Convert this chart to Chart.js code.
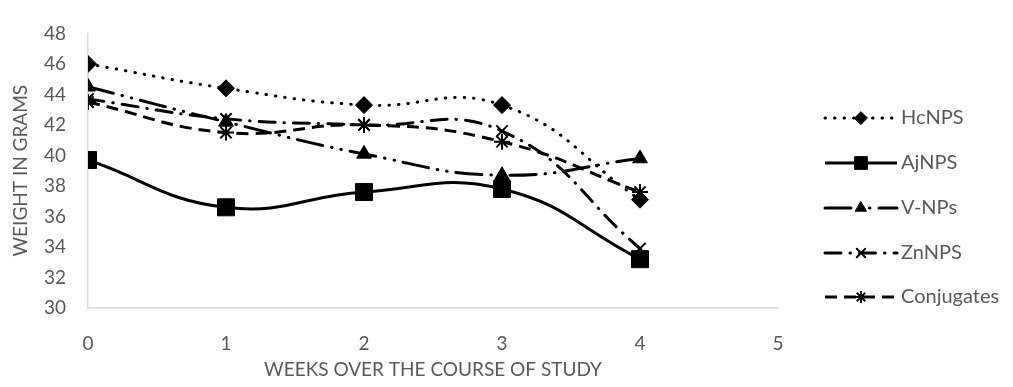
<!DOCTYPE html>
<html>
<head>
<meta charset="utf-8">
<script src="https://cdn.jsdelivr.net/npm/chart.js@4/dist/chart.umd.min.js"></script>
<style>
  html, body { margin: 0; padding: 0; background: #fff; }
  #wrap { width: 1013px; height: 387px; }
</style>
</head>
<body>
<div id="wrap"><canvas id="weightChart" width="1013" height="387"></canvas></div>
<script>
// weeks on x axis
const weeks = [0, 1, 2, 3, 4];

// weight in grams per series
const hcNPS = [46.0, 44.4, 43.3, 43.3, 37.1];
const ajNPS = [39.7, 36.6, 37.6, 37.8, 33.2];
const vNPs = [44.5, 42.2, 40.1, 38.7, 39.8];
const znNPS = [43.7, 42.4, 42.0, 41.6, 33.9];
const conjugates = [43.5, 41.5, 42.0, 40.9, 37.6];

const seriesNames = ["HcNPS", "AjNPS", "V-NPs", "ZnNPS", "Conjugates"];

const textColor = "#595959";
const axisColor = "#d9d9d9";
const fontFamily = "Lato, 'Open Sans', sans-serif";
const fontSize = 19;

function toPoints(vals) {
  return weeks.map((w, i) => ({ x: w, y: vals[i] }));
}

const styles = [
  { dash: [0.5, 9], cap: "round", point: "rectRot", radius: 8.5, bw: 1 },
  { dash: [], cap: "butt", point: "rect", radius: 12, bw: 1 },
  { dash: [26, 9, 0.5, 9, 0.5, 9], cap: "round", point: "triangle", radius: 8.5, bw: 1 },
  { dash: [16, 9, 0.5, 9], cap: "round", point: "crossRot", radius: 8, bw: 2 },
  { dash: [12, 7], cap: "butt", point: "star", radius: 8, bw: 2 },
];

const allValues = [hcNPS, ajNPS, vNPs, znNPS, conjugates];

const datasets = allValues.map((vals, i) => ({
  label: seriesNames[i],
  data: toPoints(vals),
  borderColor: "#000",
  backgroundColor: "#000",
  borderWidth: 3,
  borderDash: styles[i].dash,
  borderCapStyle: styles[i].cap,
  tension: 0.45,
  pointStyle: styles[i].point,
  pointRadius: styles[i].radius,
  pointBorderWidth: styles[i].bw,
  pointBackgroundColor: "#000",
  pointBorderColor: "#000",
  fill: false,
}));

// legend drawn on the right: line sample with the marker in the middle
const sideLegend = {
  id: "sideLegend",
  afterDraw(chart) {
    const ctx = chart.ctx;
    const rows = [118, 163, 208, 253, 297];
    const x0 = 825, x1 = 897;
    chart.data.datasets.forEach((ds, i) => {
      const y = rows[i];
      ctx.save();
      ctx.strokeStyle = "#000";
      ctx.lineWidth = 3;
      ctx.lineCap = ds.borderCapStyle;
      ctx.setLineDash(ds.borderDash);
      ctx.beginPath();
      ctx.moveTo(x0, y);
      ctx.lineTo(x1, y);
      ctx.stroke();
      ctx.setLineDash([]);
      ctx.fillStyle = "#000";
      ctx.strokeStyle = "#000";
      ctx.lineWidth = ds.pointBorderWidth;
      Chart.helpers.drawPoint(ctx, {
        pointStyle: ds.pointStyle,
        rotation: 0,
        radius: ds.pointRadius * 0.75,
        borderWidth: ds.pointBorderWidth,
      }, (x0 + x1) / 2, y);
      ctx.fillStyle = textColor;
      ctx.font = "20px " + fontFamily;
      ctx.textBaseline = "middle";
      ctx.textAlign = "left";
      ctx.fillText(ds.label, 901, y);
      ctx.restore();
    });
  },
};

new Chart(document.getElementById("weightChart").getContext("2d"), {
  type: "line",
  data: { datasets: datasets },
  options: {
    responsive: false,
    animation: false,
    layout: { padding: { top: 23, right: 235, left: 0, bottom: 0 } },
    plugins: {
      legend: { display: false },
      tooltip: { enabled: false },
    },
    scales: {
      x: {
        type: "linear",
        min: 0,
        max: 5,
        grid: { display: false, drawTicks: false },
        border: { display: true, color: axisColor, width: 1.5 },
        ticks: {
          stepSize: 1,
          padding: 24,
          color: textColor,
          font: { family: fontFamily, size: fontSize },
        },
        title: {
          display: true,
          text: "WEEKS OVER THE COURSE OF STUDY",
          color: textColor,
          font: { family: fontFamily, size: fontSize },
          padding: { top: 0, bottom: 6 },
        },
        afterFit(scale) { scale.height = 79; },
      },
      y: {
        min: 30,
        max: 48,
        grid: { display: false, drawTicks: false },
        border: { display: true, color: axisColor, width: 1.5 },
        ticks: {
          stepSize: 2,
          padding: 22,
          color: textColor,
          font: { family: fontFamily, size: fontSize },
        },
        title: {
          display: true,
          text: "WEIGHT IN GRAMS",
          color: textColor,
          font: { family: fontFamily, size: fontSize },
          padding: { top: 9, bottom: 0 },
        },
        afterFit(scale) { scale.width = 88; },
      },
    },
  },
  plugins: [sideLegend],
});
</script>
</body>
</html>
